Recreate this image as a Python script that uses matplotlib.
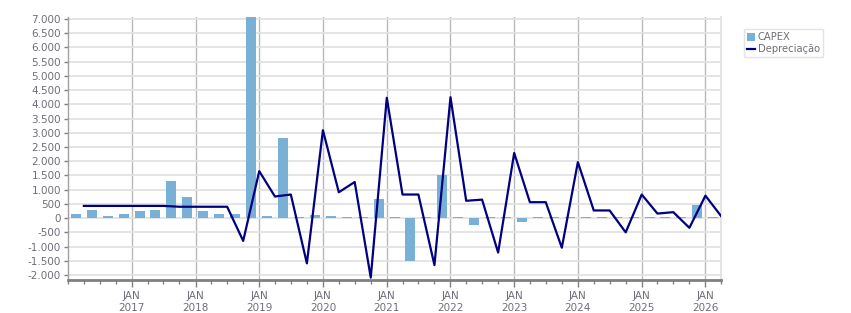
import matplotlib
matplotlib.use("Agg")
import matplotlib.pyplot as plt
import matplotlib.dates as mdates
from matplotlib.ticker import FuncFormatter, MultipleLocator
from matplotlib.lines import Line2D
from matplotlib.patches import Patch
import pandas as pd

# quarterly data, Q1 2016 .. Q1 2026
quarters = pd.period_range("2016Q1", "2026Q1", freq="Q")
capex = [150, 290, 80, 150,
         255, 290, 1315, 750,
         255, 150, 150, 7200,
         80, 2800, 35, 115,
         80, 35, 35, 680,
         35, -1490, 35, 1525,
         35, -235, 35, 35,
         -130, 35, 35, 35,
         35, 35, 35, 35,
         35, 35, 35, 470,
         35]
depreciacao = [430, 430, 430, 430,
               430, 430, 400, 400,
               400, 400, -800, 1650,
               760, 830, -1590, 3090,
               910, 1270, -2090, 4230,
               830, 830, -1650, 4250,
               610, 650, -1210, 2290,
               560, 560, -1040, 1970,
               270, 270, -500, 830,
               160, 210, -340, 790,
               70]
year_ticks = list(range(2017, 2027))

bar_color = "#78b1d5"
line_color = "#000080"
text_color = "#6e6e78"

starts = quarters.start_time
bar_x = starts + pd.Timedelta(days=45)        # bars centred in the quarter
line_x = quarters.end_time.normalize() + pd.Timedelta(days=1)  # line at quarter end

fig = plt.figure(figsize=(8.51, 3.13), dpi=100)
ax = fig.add_axes([0.0799, 0.1054, 0.7675, 0.8403])

ax.bar(bar_x, capex, width=57, color=bar_color, zorder=2)
ax.plot(line_x, depreciacao, color=line_color, linewidth=1.6, zorder=3)

ax.set_xlim(pd.Timestamp("2016-01-01"), pd.Timestamp("2026-04-01"))
ax.set_ylim(-2175, 7070)

# y axis
ax.yaxis.set_major_locator(MultipleLocator(500))
ax.yaxis.set_major_formatter(FuncFormatter(lambda v, p: f"{int(v):,}".replace(",", ".")))
ax.grid(axis="y", color="#e2e2e2", linewidth=1.3, zorder=0)

# x axis
ax.set_xticks([pd.Timestamp(f"{y}-01-01") for y in year_ticks])
ax.set_xticklabels([f"JAN\n{y}" for y in year_ticks])
ax.xaxis.set_minor_locator(mdates.MonthLocator(bymonth=[1, 4, 7, 10]))
ax.grid(axis="x", which="major", color="#b8b8b8", linewidth=1.0, zorder=0)

ax.tick_params(axis="y", labelsize=7.5, colors=text_color, length=3, width=1,
               color="#808080", pad=2)
ax.tick_params(axis="x", which="major", labelsize=7.5, colors=text_color, length=5,
               width=1, color="#808080", pad=3)
ax.tick_params(axis="x", which="minor", length=3, width=1, color="#808080")

ax.spines["top"].set_visible(False)
ax.spines["right"].set_color("#e2e2e2")
ax.spines["right"].set_linewidth(1.3)
ax.spines["left"].set_color("#a0a0a0")
ax.spines["left"].set_linewidth(1.0)
ax.spines["bottom"].set_color("#808080")
ax.spines["bottom"].set_linewidth(2.0)

handles = [Patch(facecolor=bar_color, label="CAPEX"),
           Line2D([0], [0], color=line_color, linewidth=1.6, label="Depreciação")]
leg = fig.legend(handles=handles, loc="upper left", bbox_to_anchor=(0.874, 0.906),
                 fontsize=7.2, frameon=True, fancybox=False, handlelength=0.8,
                 handleheight=0.9, handletextpad=0.3, borderpad=0.3,
                 labelspacing=0.2, borderaxespad=0)
leg.get_frame().set_edgecolor("#dcdcdc")
leg.get_frame().set_linewidth(1.0)
for t in leg.get_texts():
    t.set_color(text_color)

fig.savefig("out.png", dpi=100)
